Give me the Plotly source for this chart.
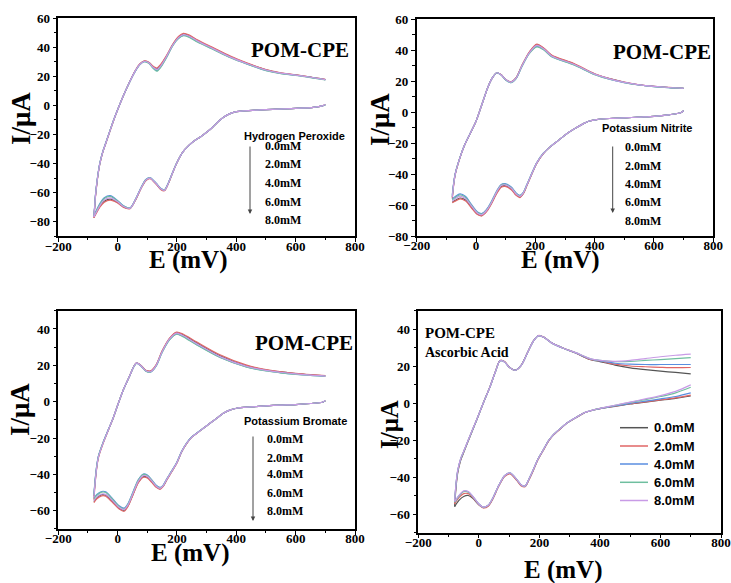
import plotly.graph_objects as go

W, H = 731, 583

# ---------------- data ----------------
CONC_LABELS = ["0.0mM", "2.0mM", "4.0mM", "6.0mM", "8.0mM"]
COLORS = ["#555555", "#e06666", "#5a8ee0", "#6fbf9f", "#c89be6"]

# Hydrogen peroxide: anodic (forward) and cathodic (reverse) sweeps
H2O2_E_UP = [-80, -77, -75, -70, -65, -60, -50, -40, -30, -15, 0, 20, 40, 60, 75, 90, 105, 120, 132, 145,
             165, 185, 205, 222, 240, 270, 320, 380, 435, 500, 550, 600, 650, 700]
H2O2_I_UP = [
    [-77, -69, -63, -53.5, -46, -40, -32, -26, -20, -11, -3, 7, 16, 24, 28.5, 30.5, 29.5, 26.5, 25.2, 27.7, 34, 41.5, 47, 49.2, 48.2, 44.5, 39.5, 33.5, 29, 24.5, 22.3, 21, 19.5, 17.8],
    [-77.3, -69.5, -63.5, -54, -46.3, -40.3, -32.2, -26.2, -20.2, -11.2, -3, 7, 16.2, 24.2, 28.7, 30.7, 29.8, 27, 25.8, 28.2, 34.5, 42, 47.5, 49.6, 48.6, 45, 40, 34, 29.3, 24.7, 22.5, 21.1, 19.6, 17.9],
    [-76, -68, -62, -52.8, -45.5, -39.6, -31.7, -25.7, -19.7, -10.8, -2.8, 7.1, 16, 23.8, 28.2, 30.2, 29.2, 25.8, 24, 26.5, 33.3, 41, 46.3, 48.3, 47.3, 43.8, 39, 33, 28.6, 24.1, 22, 20.8, 19.3, 17.7],
    [-76.3, -68.3, -62.3, -53, -45.7, -39.8, -31.8, -25.8, -19.8, -10.9, -2.9, 7, 15.9, 23.7, 28.1, 30.1, 29, 25.5, 23.6, 26.2, 33, 40.8, 46, 48, 47, 43.6, 38.8, 32.8, 28.5, 24, 21.9, 20.7, 19.2, 17.6],
    [-76.8, -68.8, -62.8, -53.3, -45.9, -40, -32, -26, -20, -11, -3, 7, 16, 24, 28.4, 30.4, 29.4, 26.2, 24.8, 27.2, 33.8, 41.3, 46.7, 48.8, 47.8, 44.3, 39.3, 33.3, 28.9, 24.4, 22.2, 20.9, 19.4, 17.8],
]
H2O2_E_DN = [700, 690, 660, 600, 500, 400, 370, 345, 320, 300, 280, 261, 240, 220, 199, 185, 171, 158,
             145, 130, 109, 95, 80, 60, 42, 20, 0, -25, -45, -60, -70, -80]
H2O2_I_DN = [
    [0.5, -0.3, -1.3, -2, -2.8, -4.3, -6.5, -10, -15, -18.5, -21.5, -24, -27.5, -32, -39.8, -46.5, -53.6, -58.5, -57.5, -54, -50.1, -51.5, -56.5, -65, -70.8, -69.8, -66.8, -64.5, -66, -69.5, -73, -77],
    [0.6, -0.3, -1.3, -2, -2.8, -4.3, -6.5, -10, -15, -18.5, -21.5, -24, -27.5, -32, -39.8, -46.5, -53.7, -58.7, -57.8, -54.3, -50.4, -51.8, -56.8, -65.3, -71, -70.2, -67.2, -65.2, -66.6, -70, -73.5, -77.3],
    [0.5, -0.3, -1.3, -2, -2.8, -4.3, -6.5, -10, -15, -18.5, -21.5, -24, -27.5, -32, -39.6, -46.2, -53.2, -58, -57, -53.5, -49.7, -51, -56, -64.6, -70.5, -69, -65.5, -62, -63.5, -67.5, -71.5, -76],
    [0.5, -0.3, -1.3, -2, -2.8, -4.3, -6.5, -10, -15, -18.5, -21.5, -24, -27.5, -32, -39.7, -46.3, -53.3, -58.1, -57.1, -53.6, -49.8, -51.1, -56.1, -64.7, -70.6, -69.2, -65.8, -62.6, -64, -68, -72, -76.3],
    [0.6, -0.3, -1.3, -2, -2.8, -4.3, -6.5, -10, -15, -18.5, -21.5, -24, -27.5, -32, -39.8, -46.5, -53.5, -58.4, -57.4, -53.9, -50, -51.4, -56.4, -64.9, -70.8, -69.6, -66.3, -63.6, -65, -69, -72.8, -76.8],
]

# Potassium nitrite
NO2_E_UP = [-80, -75, -70, -60, -40, -20, 0, 20, 40, 55, 70, 85, 100, 118, 135, 155, 180, 205,
            230, 255, 330, 400, 450, 500, 550, 600, 650, 700]
NO2_I_UP = [
    [-55, -46, -40, -33, -22, -14, -6, 5, 16, 22, 25.3, 24, 21, 19.5, 22, 30, 38.5, 43.5, 40.8, 36.5, 31, 24.5, 21.5, 19.2, 17.5, 16.5, 15.8, 15.3],
    [-56, -46.5, -40.3, -33.2, -22.1, -14, -6, 5, 16, 22, 25.3, 24, 21, 19.4, 22, 30.2, 38.8, 43.8, 41, 36.8, 31.2, 24.7, 21.6, 19.3, 17.6, 16.6, 15.9, 15.3],
    [-53.5, -45.3, -39.6, -32.8, -21.9, -13.9, -5.9, 5, 16, 22, 25.2, 23.8, 20.7, 19, 21.5, 29.5, 38, 42.3, 40, 35.8, 30.5, 24.2, 21.2, 19, 17.4, 16.4, 15.7, 15.2],
    [-54, -45.5, -39.8, -32.9, -22, -14, -6, 5, 16, 22, 25.2, 23.8, 20.7, 19, 21.5, 29.4, 37.8, 42, 39.8, 35.6, 30.4, 24.1, 21.1, 19, 17.4, 16.4, 15.7, 15.2],
    [-55, -46, -40, -33, -22, -14, -6, 5, 16, 22, 25.3, 23.9, 20.9, 19.3, 21.8, 29.8, 38.3, 43, 40.5, 36.2, 30.8, 24.4, 21.4, 19.1, 17.5, 16.5, 15.8, 15.3],
]
NO2_E_DN = [700, 690, 650, 600, 550, 500, 450, 407, 380, 362, 335, 306, 280, 250, 227, 205, 188, 171,
            160, 148, 135, 120, 98, 85, 70, 50, 35, 19, 5, -15, -35, -54, -70, -80]
NO2_I_DN = [
    [0.8, -0.5, -1.8, -2.8, -3.3, -3.8, -4.2, -4.9, -6, -7.5, -10.5, -14, -18, -22.5, -26.8, -33, -40, -47.5, -52.3, -54.8, -53.3, -49.8, -47.5, -48, -52, -59.5, -64, -66.8, -65.8, -61.5, -56.8, -55.5, -57, -58.3],
    [0.8, -0.5, -1.8, -2.8, -3.3, -3.8, -4.2, -4.9, -6, -7.5, -10.5, -14, -18, -22.5, -26.8, -33, -40.2, -47.8, -52.6, -55.2, -53.7, -50.3, -48, -48.5, -52.5, -60, -64.5, -67, -66.2, -62, -57.5, -56, -57.5, -58.5],
    [0.8, -0.5, -1.8, -2.8, -3.3, -3.8, -4.2, -4.9, -6, -7.5, -10.5, -14, -18, -22.5, -26.6, -32.6, -39.5, -47, -51.6, -53.8, -52.2, -48.6, -46.2, -46.7, -50.8, -58.5, -63, -65.5, -64.5, -59.8, -54.5, -52.8, -54.5, -56],
    [0.8, -0.5, -1.8, -2.8, -3.3, -3.8, -4.2, -4.9, -6, -7.5, -10.5, -14, -18, -22.5, -26.6, -32.7, -39.6, -47.1, -51.8, -54, -52.5, -49, -46.6, -47.1, -51.2, -58.8, -63.3, -65.8, -64.8, -60.3, -55.2, -53.5, -55.2, -56.8],
    [0.8, -0.5, -1.8, -2.8, -3.3, -3.8, -4.2, -4.9, -6, -7.5, -10.5, -14, -18, -22.5, -26.7, -32.8, -39.8, -47.3, -52, -54.4, -52.9, -49.4, -47, -47.5, -51.5, -59.2, -63.7, -66.3, -65.3, -60.8, -56, -54.3, -56, -57.5],
]

# Potassium bromate
BRO3_E_UP = [-80, -75, -70, -65, -50, -30, -15, 0, 19, 40, 55, 64, 80, 95, 112, 130, 150, 175,
             199, 220, 267, 345, 435, 500, 547, 600, 650, 700]
BRO3_I_UP = [
    [-52, -42.5, -35.3, -30.5, -23.1, -15, -9, -2, 6.4, 14, 19.5, 21.3, 19.6, 17.1, 16.8, 20.2, 27.7, 34.7, 38, 36.8, 32.3, 25.3, 19.7, 17.4, 16.4, 15.4, 14.8, 14.2],
    [-54, -43.5, -36, -31, -23.4, -15.2, -9.1, -2, 6.4, 14, 19.6, 21.4, 19.8, 17.3, 17, 20.4, 28, 35, 38.3, 37.2, 32.8, 25.8, 20.1, 17.7, 16.6, 15.6, 14.9, 14.3],
    [-51, -41.5, -34.6, -30, -22.8, -14.8, -8.9, -2, 6.4, 14, 19.4, 21.2, 19.4, 16.9, 16.4, 19.7, 27.2, 34.2, 37.3, 36, 31.4, 24.5, 19.1, 17, 16, 15.1, 14.5, 14],
    [-51.5, -41.8, -34.8, -30.2, -22.9, -14.9, -9, -2, 6.4, 14, 19.4, 21.2, 19.4, 16.8, 16.3, 19.6, 27.1, 34, 37.1, 35.8, 31.2, 24.3, 19, 16.9, 15.9, 15, 14.4, 14],
    [-52.5, -42.8, -35.5, -30.6, -23.2, -15, -9, -2, 6.4, 14, 19.5, 21.3, 19.5, 17, 16.6, 20, 27.5, 34.5, 37.7, 36.4, 31.8, 24.8, 19.4, 17.2, 16.2, 15.3, 14.6, 14.1],
]
BRO3_E_DN = [700, 690, 650, 600, 547, 500, 450, 401, 380, 356, 335, 311, 290, 267, 250, 233, 216, 199,
             182, 165, 153, 143, 130, 115, 100, 87, 70, 50, 35, 22, 5, -20, -40, -54, -70, -80]
BRO3_I_DN = [
    [0.5, -0.3, -1, -1.6, -1.9, -2.3, -2.9, -3.6, -4.5, -6.4, -9, -11.9, -14.5, -17.4, -19.5, -22.9, -27.5, -33.9, -38.5, -43.1, -46.6, -47.9, -46.8, -44, -41.6, -41.2, -44.2, -51.7, -57.2, -59.8, -58.6, -54.4, -51.5, -51.2, -52.8, -55],
    [0.5, -0.3, -1, -1.6, -1.9, -2.3, -2.9, -3.6, -4.5, -6.4, -9, -11.9, -14.5, -17.4, -19.5, -22.9, -27.6, -34, -38.7, -43.3, -46.8, -48.2, -47.1, -44.4, -42, -41.6, -44.6, -52, -57.6, -60.3, -59, -55, -52, -51.8, -53.4, -55.5],
    [0.5, -0.3, -1, -1.6, -1.9, -2.3, -2.9, -3.6, -4.5, -6.4, -9, -11.9, -14.5, -17.2, -19.3, -22.6, -27.2, -33.5, -38.1, -42.6, -46, -47.2, -46, -43, -40.4, -39.8, -42.8, -50.4, -56, -58.6, -57.3, -52.8, -49.6, -49.4, -51, -53],
    [0.5, -0.3, -1, -1.6, -1.9, -2.3, -2.9, -3.6, -4.5, -6.4, -9, -11.9, -14.5, -17.3, -19.4, -22.7, -27.3, -33.6, -38.2, -42.7, -46.2, -47.4, -46.2, -43.2, -40.6, -40, -43, -50.6, -56.3, -58.9, -57.6, -53.2, -50, -49.8, -51.5, -53.5],
    [0.6, -0.3, -1, -1.6, -1.9, -2.3, -2.9, -3.6, -4.5, -6.4, -9, -11.9, -14.5, -17.4, -19.5, -22.8, -27.4, -33.8, -38.4, -42.9, -46.4, -47.7, -46.5, -43.6, -41.1, -40.7, -43.7, -51.2, -56.8, -59.4, -58.2, -54, -51, -50.8, -52.4, -54.5],
]

# Ascorbic acid
AA_E_UP = [-80, -75, -70, -60, -51, -30, -7, 15, 37, 55, 70, 85, 100, 120, 140, 160, 180, 197,
           215, 240, 279, 320, 367, 400, 450, 500, 550, 600, 650, 700]
AA_I_UP = [
    [-56, -45, -38, -31, -27.2, -18.5, -9.2, 0, 8.8, 17, 22.9, 22.3, 19.5, 17.8, 20.5, 27, 33.5, 36.4, 35.5, 32.5, 29.6, 27, 23.5, 22.4, 20.5, 19, 18, 17.2, 16.5, 15.7],
    [-54.5, -44, -37.3, -30.5, -26.8, -18.2, -9, 0.2, 9, 17.2, 23, 22.4, 19.5, 17.7, 20.4, 27, 33.5, 36.5, 35.6, 32.6, 29.7, 27.1, 23.6, 22.7, 21, 20, 19.6, 19.3, 19.1, 19.2],
    [-53.5, -43.3, -36.8, -30.2, -26.6, -18.1, -9, 0.1, 8.8, 17, 22.8, 22.2, 19.4, 17.7, 20.4, 26.9, 33.4, 36.4, 35.5, 32.5, 29.6, 27.1, 23.8, 22.8, 21.5, 21, 20.8, 20.8, 20.8, 20.8],
    [-53.5, -43.3, -36.8, -30.2, -26.6, -18.1, -9, 0.1, 8.8, 17, 22.8, 22.2, 19.4, 17.7, 20.4, 26.9, 33.4, 36.4, 35.5, 32.5, 29.6, 27.2, 24, 23, 22.3, 22.5, 23, 23.5, 24, 24.5],
    [-53, -43, -36.6, -30, -26.5, -18, -8.9, 0.1, 8.8, 17, 22.8, 22.2, 19.4, 17.7, 20.4, 26.9, 33.4, 36.4, 35.5, 32.5, 29.6, 27.2, 24, 23, 22.5, 23, 24, 25, 25.8, 26.4],
]
AA_E_DN = [700, 650, 600, 550, 500, 450, 400, 378, 345, 320, 290, 270, 246, 230, 213, 195, 180, 165,
           153, 140, 125, 103, 85, 65, 45, 31, 15, 0, -20, -35, -50, -65, -80]
AA_I_DN = [
    [3.8, 2.5, 1.5, 0.5, -0.5, -1.8, -3, -3.8, -5.6, -8, -11, -13.8, -17.3, -20.5, -25.4, -30.5, -36.2, -41.5, -45, -44.5, -41.5, -38, -39.5, -45, -52, -55.5, -56.5, -55, -51.5, -50, -50.5, -52.5, -56],
    [4.3, 2.8, 1.7, 0.6, -0.4, -1.7, -3, -3.8, -5.6, -8, -11, -13.9, -17.4, -20.7, -25.6, -30.8, -36.5, -41.8, -45.2, -44.8, -41.8, -38.3, -39.8, -45.3, -52.3, -55.8, -56.7, -55, -51, -49, -49, -51, -54.5],
    [5.5, 3.5, 2.2, 1, -0.2, -1.6, -3, -3.8, -5.5, -7.9, -10.9, -13.7, -17.2, -20.4, -25.3, -30.4, -36, -41.3, -44.8, -44.3, -41.3, -37.8, -39.3, -44.8, -51.8, -55.3, -56.3, -54.6, -50.5, -48, -47.7, -50, -53.5],
    [8.5, 5.5, 3.5, 1.8, 0.3, -1.3, -2.9, -3.7, -5.5, -7.9, -10.9, -13.7, -17.2, -20.4, -25.3, -30.4, -36, -41.3, -44.8, -44.3, -41.3, -37.8, -39.3, -44.8, -51.8, -55.3, -56.3, -54.6, -50.6, -48.2, -47.9, -50.2, -53.7],
    [9.8, 6.3, 4, 2.2, 0.5, -1.2, -2.9, -3.7, -5.5, -7.9, -10.9, -13.7, -17.2, -20.4, -25.3, -30.4, -36, -41.3, -44.8, -44.3, -41.3, -37.8, -39.3, -44.8, -51.8, -55.3, -56.3, -54.6, -50.4, -47.8, -47.5, -49.8, -53.3],
]

X_TICKS = [-200, 0, 200, 400, 600, 800]


def px(x):
    return x / W


def py(y):
    return 1 - y / H


# panel geometry in pixels: (left, right, top, bottom), y range
PANELS = [
    dict(box=(58.3, 355.0, 18.3, 236.2), yr=[-90, 60], up=(H2O2_E_UP, H2O2_I_UP), dn=(H2O2_E_DN, H2O2_I_DN)),
    dict(box=(416.7, 713.3, 19.0, 236.0), yr=[-80, 60], up=(NO2_E_UP, NO2_I_UP), dn=(NO2_E_DN, NO2_I_DN)),
    dict(box=(58.3, 355.0, 310.8, 528.9), yr=[-70, 50], up=(BRO3_E_UP, BRO3_I_UP), dn=(BRO3_E_DN, BRO3_I_DN)),
    dict(box=(418.3, 721.0, 310.5, 532.5), yr=[-70, 50], up=(AA_E_UP, AA_I_UP), dn=(AA_E_DN, AA_I_DN)),
]

fig = go.Figure()
tick_font = dict(family="Liberation Serif", size=13, color="black", weight="bold")

for k, p in enumerate(PANELS):
    sfx = "" if k == 0 else str(k + 1)
    e_up, i_up = p["up"]
    e_dn, i_dn = p["dn"]
    for c in range(5):
        # forward and reverse sweeps as separate runs of one trace
        fig.add_trace(go.Scatter(
            x=list(e_up) + [None] + list(e_dn), y=list(i_up[c]) + [None] + list(i_dn[c]),
            mode="lines", connectgaps=False,
            line=dict(color=COLORS[c], width=1.2, shape="spline", smoothing=0.8),
            name=CONC_LABELS[c], showlegend=False,
            xaxis="x" + sfx, yaxis="y" + sfx,
        ))
    l, r, t, b = p["box"]
    common = dict(showline=True, linecolor="black", linewidth=1.5, mirror=True,
                  ticks="outside", ticklen=4, tickwidth=1.2, tickcolor="black",
                  showgrid=False, zeroline=False, tickfont=tick_font, automargin=False)
    fig.layout["xaxis" + sfx] = dict(
        common, domain=[px(l), px(r)], range=[-200, 800], tickvals=X_TICKS,
        anchor="y" + sfx, ticklabelstandoff=-7,
        minor=dict(ticks="outside", ticklen=2.5, tickwidth=1, tickcolor="black", dtick=100, tick0=-200),
    )
    fig.layout["yaxis" + sfx] = dict(
        common, domain=[py(b), py(t)], range=p["yr"], dtick=20, tick0=0,
        anchor="x" + sfx,
        minor=dict(ticks="outside", ticklen=2.5, tickwidth=1, tickcolor="black", dtick=10, tick0=0),
    )

ann = []
shapes = []


def text(x, y, s, size, family="Liberation Serif", anchor="center", angle=0):
    ann.append(dict(x=px(x), y=py(y), xref="paper", yref="paper", text=s, showarrow=False,
                    xanchor=anchor, yanchor="middle", textangle=angle,
                    font=dict(family=family, size=size, color="black", weight="bold")))


def arrow(x, y0, y1):
    ann.append(dict(x=px(x), y=py(y1), xref="paper", yref="paper", ax=0, ay=-(y1 - y0),
                    text="", showarrow=True, arrowhead=2, arrowsize=0.9, arrowwidth=1,
                    arrowcolor="#444444"))


# panel labels
text(300, 50, "POM-CPE", 21)
text(661.7, 52, "POM-CPE", 21)
text(304, 343, "POM-CPE", 21)
text(422.7, 333, "POM-CPE", 15, anchor="left")
text(422.7, 352.7, "Ascorbic Acid", 14, anchor="left")

# axis titles
for (x, y, s) in [(21, 119, 27), (380, 120, 27), (20, 410, 27), (389, 425, 25)]:
    text(x, y, "I/μA", s, angle=-90)
for (x, y) in [(188, 260), (560, 260), (190, 553), (562.5, 570)]:
    text(x, y, "E (mV)", 25)

# additive labels with concentration arrows
SANS = "Liberation Sans"
text(294, 136, "Hydrogen Peroxide", 11, family=SANS)
for lab, y in zip(CONC_LABELS, [146, 164.3, 182.7, 201.7, 220]):
    text(263, y, lab, 12, anchor="left")
arrow(250, 145, 214)

text(646.7, 128.3, "Potassium Nitrite", 11, family=SANS)
for lab, y in zip(CONC_LABELS, [147, 165.7, 184, 202.3, 220.7]):
    text(623, y, lab, 12, anchor="left")
arrow(612.7, 145, 213)

text(295, 420.7, "Potassium Bromate", 11, family=SANS)
for lab, y in zip(CONC_LABELS, [439, 457.7, 474.3, 492.7, 510.7]):
    text(265, y, lab, 12, anchor="left")
arrow(253, 435, 521)

# key for the ascorbic acid panel: short line samples with labels
for c, y in enumerate([427.7, 446, 464, 482.3, 500.5]):
    shapes.append(dict(type="line", xref="paper", yref="paper",
                       x0=px(620), x1=px(648), y0=py(y), y1=py(y),
                       line=dict(color=COLORS[c], width=1.5)))
    text(651.5, y, CONC_LABELS[c], 13, family=SANS, anchor="left")

fig.update_layout(
    width=W, height=H, autosize=False,
    margin=dict(l=0, r=0, t=0, b=0, pad=0, autoexpand=False),
    paper_bgcolor="white", plot_bgcolor="white",
    annotations=ann, shapes=shapes, showlegend=False,
)

fig.write_html("out.html")
